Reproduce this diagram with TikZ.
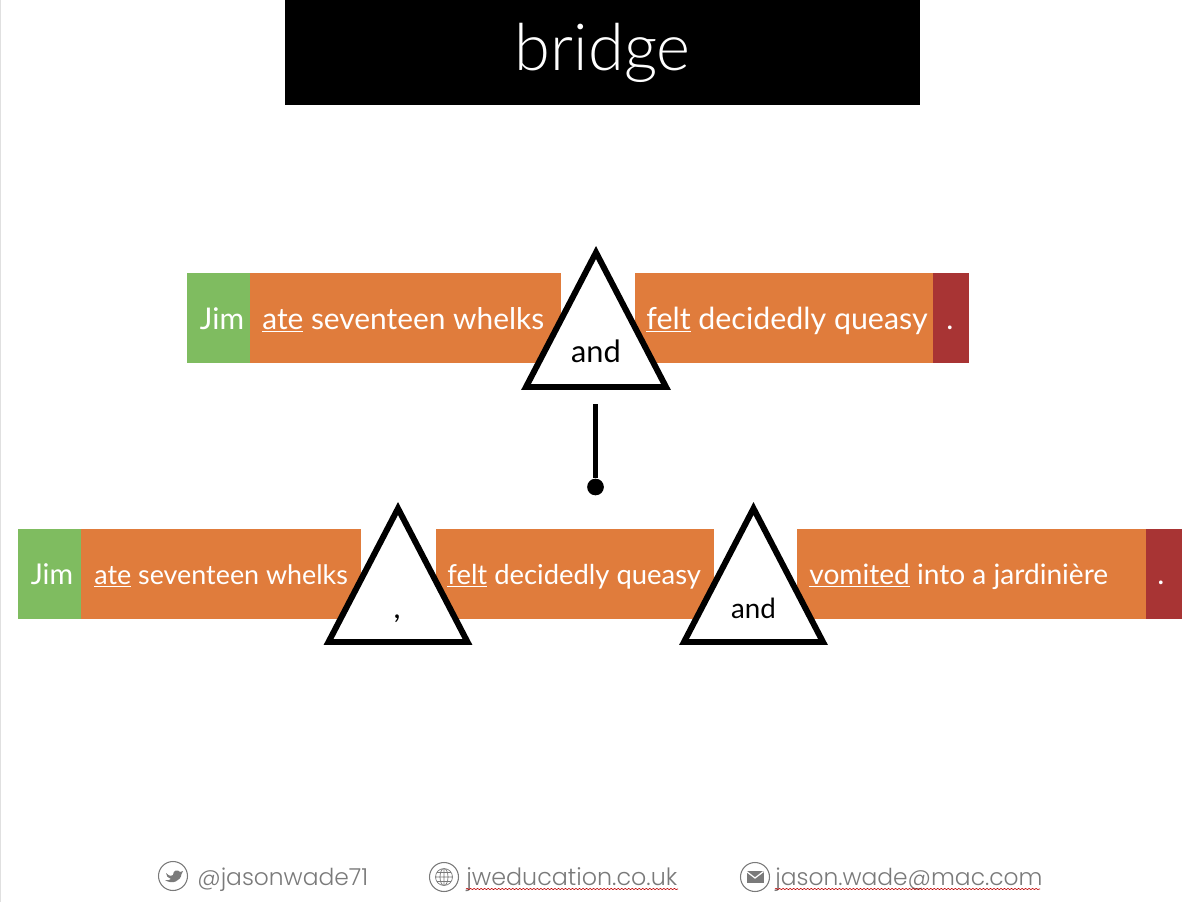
\documentclass[tikz,border=0pt]{standalone}
\usepackage{fontspec}
\setmainfont{Lato}
\newfontfamily\footfont{Poppins Light}
\newfontfamily\titlefont{Lato Light}
\usetikzlibrary{calc,decorations.pathmorphing}
\definecolor{CG}{HTML}{7FBC60}
\definecolor{CO}{HTML}{E07C3C}
\definecolor{CR}{HTML}{A83434}
\definecolor{CF}{HTML}{7A7A7A}
\tikzset{
	bar/.style = {anchor=north west, inner sep=0pt, minimum height=51.2pt, fill=#1},
	wd/.style = {anchor=base west, inner sep=0pt, text=white, font=\fontsize{17}{20}\selectfont},
	wc/.style = {anchor=base, inner sep=0pt, text=white, font=\fontsize{17}{20}\selectfont},
	tri/.style = {draw=black, fill=white, line width=3.4pt, miter limit=10},
	tl/.style = {anchor=base, inner sep=0pt, text=black, font=\fontsize{17.5}{20}\selectfont},
	ft/.style = {anchor=base west, inner sep=0pt, text=CF, font=\footfont\fontsize{13.3}{16}\selectfont},
	ic/.style = {circle, draw=CF, line width=0.6pt, minimum size=16.5pt, inner sep=0pt},
	sp/.style = {draw=red!75!black, line width=0.35pt, decorate,
		decoration={snake, amplitude=0.35pt, segment length=2pt}},
}
\begin{document}
\begin{tikzpicture}[x=0.02cm, y=-0.02cm]
	\useasboundingbox (0,0) rectangle (1200,902);
	\fill[white] (0,0) rectangle (1200,902);
	\draw[black!12, line width=0.6pt] (0.5,0) -- (0.5,902);
	
	%% title bar
	\node[anchor=north west, fill=black, minimum width=361.3pt, minimum height=59.8pt, inner sep=0pt,
	text=white, font=\titlefont\fontsize{37}{40}\selectfont] (title) at (285,0) {bridge};
	
	%% top sentence
	\node[bar=CG, minimum width=35.9pt] (jima) at (187,273) {};
	\node[bar=CO, minimum width=177pt] (ateA) at (250,273) {};
	\node[bar=CO, minimum width=174.7pt] (feltA) at (635,273) {};
	\node[bar=CR, minimum width=20.5pt] (stopA) at (933,273) {};
	\node[wc] (jimAt) at (222,329) {Jim};
	\node[wd] (ateAt) at (262,329) {\underline{ate} seventeen whelks};
	\node[wd, font=\fontsize{17.3}{20}\selectfont] (feltAt) at (646,329) {\underline{felt} decidedly queasy};
	\node[wc] (stopAt) at (950,329) {.};
	\draw[tri] (596,252.5) -- (666,387) -- (526,387) -- cycle;
	\node[tl] (andA) at (596,362) {and};
	
	%% link between the two sentences
	\coordinate (linktop) at (595.5,404);
	\node[circle, fill=black, minimum size=9.5pt, inner sep=0pt] (linkdot) at (595.5,487) {};
	\draw[black, line width=3.2pt] (linktop) -- (linkdot);
	
	%% bottom sentence
	\node[bar=CG, minimum width=35.9pt] (jimb) at (18,529) {};
	\node[bar=CO, minimum width=159.3pt] (ateB) at (81,529) {};
	\node[bar=CO, minimum width=158.2pt] (feltB) at (436,529) {};
	\node[bar=CO, minimum width=203pt] (vomB) at (797,529) {};
	\node[bar=CR, minimum width=20.5pt] (stopB) at (1146,529) {};
	\node[wc, font=\fontsize{16.3}{20}\selectfont] (jimBt) at (52,584) {Jim};
	\node[wd, font=\fontsize{15.3}{20}\selectfont] (ateBt) at (94,584) {\underline{ate} seventeen whelks};
	\node[wd, font=\fontsize{15.6}{20}\selectfont] (feltBt) at (447,584) {\underline{felt} decidedly queasy};
	\node[wd, font=\fontsize{16}{20}\selectfont] (vomBt) at (809,584) {\underline{vomited} into a jardinière};
	\node[wc] (stopBt) at (1161,584) {.};
	\draw[tri] (398,508.5) -- (467.5,642) -- (328.5,642) -- cycle;
	\node[tl] (commaB) at (397,618) {,};
	\draw[tri] (753.5,508.5) -- (823,642) -- (684,642) -- cycle;
	\node[tl, font=\fontsize{15.8}{20}\selectfont] (andB) at (753.5,618) {and};
	
	%% footer
	\node[ic] (twitter) at (173,876) {};
	\fill[CF] (166,873) .. controls (170,877) and (172,876) .. (173,875)
	.. controls (173,870) and (178,869) .. (180,872) -- (183,871) -- (181.5,874)
	.. controls (181,881) and (172,885) .. (165,880)
	.. controls (168,880.5) and (170,880) .. (171,879)
	.. controls (168,878) and (166,876) .. (166,873) -- cycle;
	\node[ft] (twittert) at (197,885) {@jasonwade71};
	
	\node[ic] (web) at (444,877) {};
	\draw[CF, line width=0.4pt] (444,877) circle[radius=8.5]
	(435.5,877) -- (452.5,877) (437,872.5) -- (451,872.5) (437,881.5) -- (451,881.5)
	(444,868.5) -- (444,885.5) (444,877) ellipse[x radius=4, y radius=8.5];
	\node[ft, font=\footfont\fontsize{13.55}{16}\selectfont] (webt) at (466,885) {jweducation.co.uk};
	\draw[sp] (466,889) -- (678,889);
	
	\node[ic] (mail) at (755,877) {};
	\fill[CF] (746.5,871) rectangle (763.5,883);
	\draw[white, line width=0.7pt] (746.5,871.5) -- (755,878) -- (763.5,871.5);
	\node[ft] (mailt) at (775,885) {jason.wade@mac.com};
	\draw[sp] (775,889) -- (1040,889);
	
\end{tikzpicture}
\end{document}
